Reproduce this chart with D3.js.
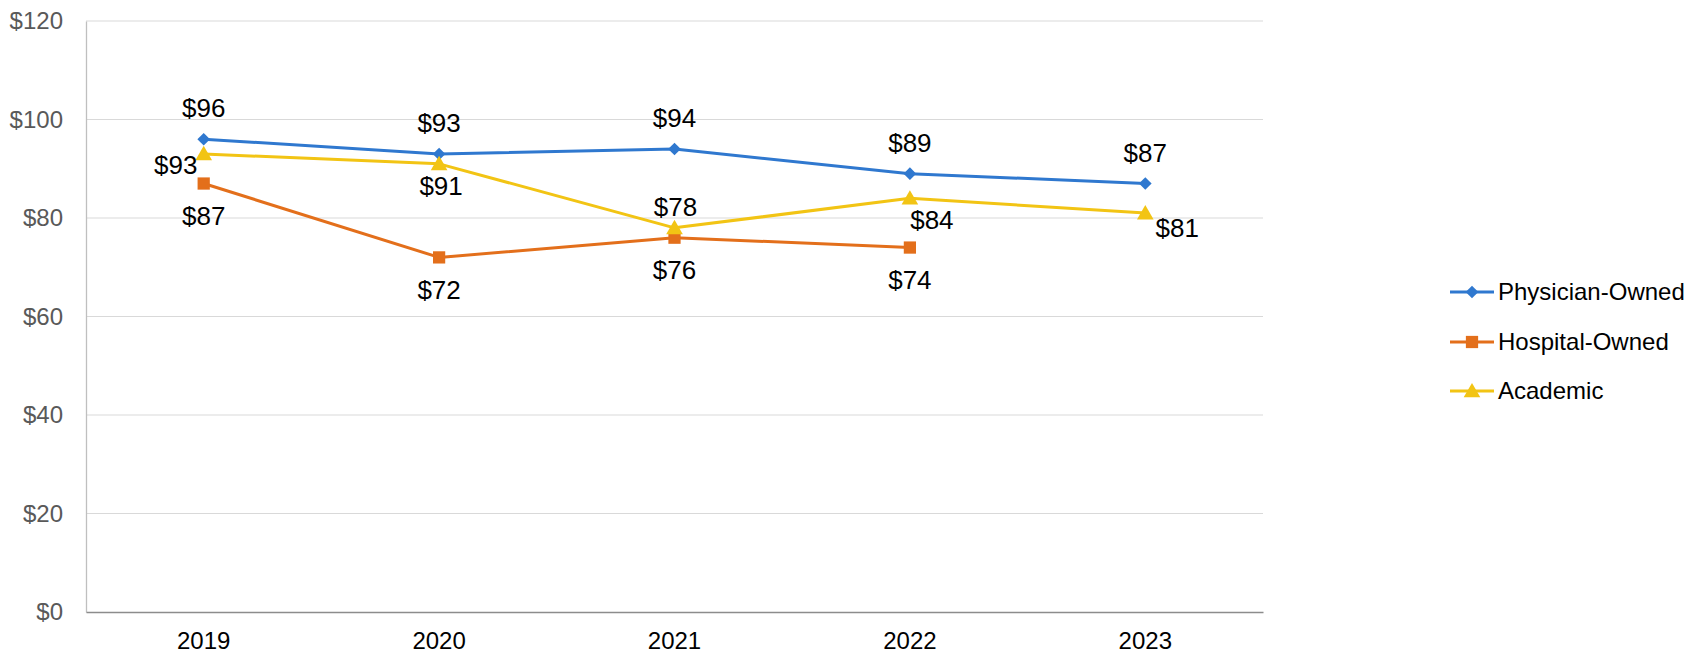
<!DOCTYPE html>
<html>
<head>
<meta charset="utf-8">
<script src="https://cdn.jsdelivr.net/npm/d3@7"></script>
<style>
  html, body { margin: 0; padding: 0; background: #ffffff; }
  svg { display: block; font-family: "Liberation Sans", Arial, sans-serif; }
</style>
</head>
<body>
<svg id="chart" width="1698" height="655"></svg>
<script>
// ---- data ----
const years = ["2019", "2020", "2021", "2022", "2023"];
const physicianOwned = [96, 93, 94, 89, 87];
const hospitalOwned = [87, 72, 76, 74, null];
const academic = [93, 91, 78, 84, 81];
const seriesNames = ["Physician-Owned", "Hospital-Owned", "Academic"];
const yTicks = [0, 20, 40, 60, 80, 100, 120];

// ---- layout / style ----
const W = 1698, H = 655;
const plot = { left: 86, right: 1263, top: 21, bottom: 612 };
const colors = ["#2F78CF", "#E36F1B", "#F2C414"];
const markers = [d3.symbolSquare, d3.symbolSquare, d3.symbolTriangle];
const markerRot = [45, 0, 0];
const markerSizes = [80, 150, 120];
const fontSize = 24;
const labelFontSize = 26;
// label offsets (dx, dy of label centre relative to the point) per series & year
const labelOffsets = [
  [[0, -31], [0, -31], [0, -31], [0, -31], [0, -31]],
  [[0, 32.5], [0, 32.5], [0, 32.5], [0, 32.5], [0, 32.5]],
  [[-28, 11], [2, 22], [1, -20.5], [22, 22], [32, 15]]
];

const svg = d3.select("#chart");

const x = d3.scaleBand().domain(years).range([plot.left, plot.right]).paddingInner(0).paddingOuter(0);
const y = d3.scaleLinear().domain([0, 120]).range([plot.bottom, plot.top]);
const cx = d => x(d) + x.bandwidth() / 2;

// gridlines
svg.append("g").selectAll("line").data(yTicks.filter(t => t > 0)).join("line")
  .attr("x1", plot.left).attr("x2", plot.right)
  .attr("y1", d => y(d)).attr("y2", d => y(d))
  .attr("stroke", "#d9d9d9").attr("stroke-width", 1);

// y axis
const yAxis = d3.axisLeft(y).tickValues(yTicks).tickSize(0).tickPadding(23).tickFormat(d => "$" + d);
const gy = svg.append("g").attr("transform", `translate(${plot.left},0)`).call(yAxis);
gy.select(".domain").attr("stroke", "#bfbfbf").attr("stroke-width", 1.3);
gy.selectAll("text").attr("font-size", fontSize).attr("fill", "#595959")
  .attr("font-family", "Liberation Sans, Arial, sans-serif");

// x axis
const xAxis = d3.axisBottom(x).tickSize(0).tickPadding(0);
const gx = svg.append("g").attr("transform", `translate(0,${plot.bottom})`).call(xAxis);
gx.select(".domain").attr("stroke", "#8c8c8c").attr("stroke-width", 1.3);
gx.selectAll("text").attr("font-size", fontSize).attr("fill", "#000")
  .attr("font-family", "Liberation Sans, Arial, sans-serif")
  .attr("y", 37).attr("dy", 0);

const allSeries = [physicianOwned, hospitalOwned, academic];

const line = d3.line()
  .defined(d => d.v != null)
  .x(d => cx(d.year)).y(d => y(d.v));

allSeries.forEach((vals, si) => {
  const pts = vals.map((v, i) => ({ year: years[i], v, i }));
  const g = svg.append("g");
  g.append("path").datum(pts)
    .attr("d", line)
    .attr("fill", "none").attr("stroke", colors[si]).attr("stroke-width", 3)
    .attr("stroke-linejoin", "round");
  g.selectAll("path.m").data(pts.filter(p => p.v != null)).join("path")
    .attr("class", "m")
    .attr("d", d3.symbol().type(markers[si]).size(markerSizes[si]))
    .attr("transform", d => `translate(${cx(d.year)},${y(d.v) + (si === 2 ? 1.5 : 0)}) rotate(${markerRot[si]})`)
    .attr("fill", colors[si]);
});

// data labels
allSeries.forEach((vals, si) => {
  const pts = vals.map((v, i) => ({ year: years[i], v, i })).filter(p => p.v != null);
  svg.append("g").selectAll("text").data(pts).join("text")
    .attr("x", d => cx(d.year) + labelOffsets[si][d.i][0])
    .attr("y", d => y(d.v) + labelOffsets[si][d.i][1])
    .attr("dy", "0.35em")
    .attr("text-anchor", "middle")
    .attr("font-size", labelFontSize)
    .attr("fill", "#000")
    .text(d => "$" + d.v);
});

// legend
const legendY = [292, 342, 391];
const lg = svg.append("g");
seriesNames.forEach((name, si) => {
  const row = lg.append("g").attr("transform", `translate(0,${legendY[si]})`);
  row.append("line").attr("x1", 1450).attr("x2", 1494).attr("y1", 0).attr("y2", 0)
    .attr("stroke", colors[si]).attr("stroke-width", 3);
  row.append("path").attr("d", d3.symbol().type(markers[si]).size(markerSizes[si]))
    .attr("transform", `translate(1472,${si === 2 ? 1.5 : 0}) rotate(${markerRot[si]})`).attr("fill", colors[si]);
  row.append("text").attr("x", 1498).attr("y", 0).attr("dy", "0.35em")
    .attr("font-size", fontSize).attr("fill", "#000").text(name);
});
</script>
</body>
</html>
